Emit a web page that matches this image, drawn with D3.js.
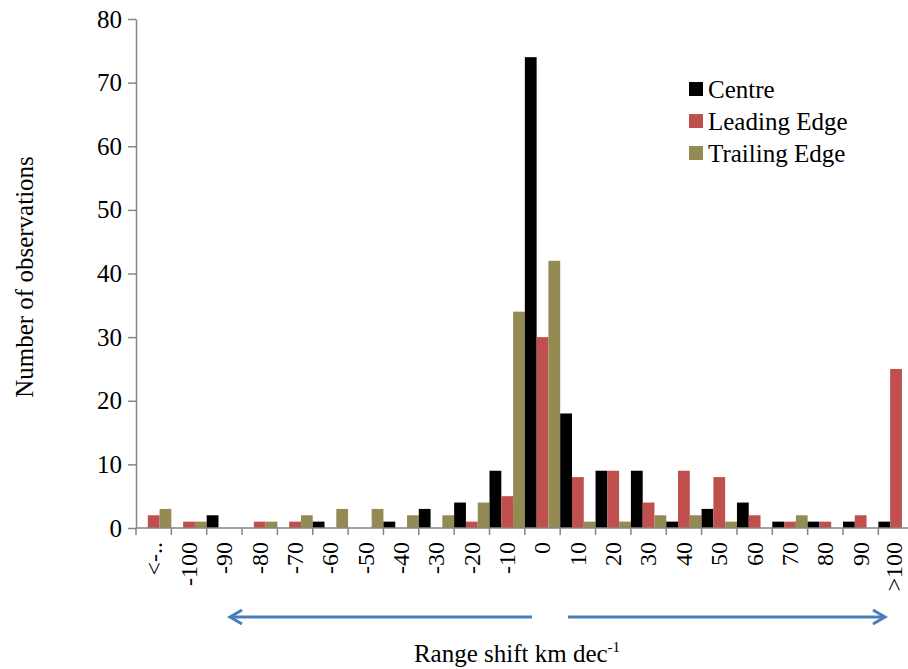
<!DOCTYPE html>
<html>
<head>
<meta charset="utf-8">
<script src="https://cdn.jsdelivr.net/npm/d3@7"></script>
<style>
    body { margin: 0; background: #fff; }
    svg { display: block; font-family: 'Liberation Serif', 'Times New Roman', serif; }
</style>
</head>
<body>
<script>
// range shift bins (km per decade)
const categories = ['<-..', '-100', '-90', '-80', '-70', '-60', '-50', '-40', '-30', '-20', '-10',
    '0', '10', '20', '30', '40', '50', '60', '70', '80', '90', '>100'];

// number of observations per bin
const centre = [0, 0, 2, 0, 0, 1, 0, 1, 3, 4, 9, 74, 18, 9, 9, 1, 3, 4, 1, 1, 1, 1];
const leadingEdge = [2, 1, 0, 1, 1, 0, 0, 0, 0, 1, 5, 30, 8, 9, 4, 9, 8, 2, 1, 1, 2, 25];
const trailingEdge = [3, 1, 0, 1, 2, 3, 3, 2, 2, 4, 34, 42, 1, 1, 2, 2, 1, 0, 2, 0, 0, 0];

const seriesNames = ['Centre', 'Leading Edge', 'Trailing Edge'];
const yTicks = [0, 10, 20, 30, 40, 50, 60, 70, 80];

drawBarChart();

/*
 * Draws the grouped bar chart of range shifts.
 */
function drawBarChart()
{
    const width = 908;
    const height = 669;

    const plotLeft = 136;
    const plotRight = 913.7;
    const plotTop = 19;
    const plotBottom = 528;

    const colors = ['#000000', '#c0504d', '#948a54'];
    const axisColor = '#868686';
    const fontSize = 25;

    const series = [centre, leadingEdge, trailingEdge];

    const svg = d3.select('body')
        .append('svg')
        .attr('width', width)
        .attr('height', height);

    // scalers
    const x = d3.scaleBand().domain(categories).range([plotLeft, plotRight]).padding(0);
    const xSub = d3.scaleBand().domain(seriesNames).range([0, x.bandwidth()]).padding(0);
    const y = d3.scaleLinear().domain([0, 80]).range([plotBottom, plotTop]);

    // bars
    const groups = svg.selectAll('g.bar-group')
        .data(categories)
        .enter()
        .append('g')
        .attr('class', 'bar-group')
        .attr('transform', d => `translate(${x(d)},0)`);

    groups.selectAll('rect')
        .data((d, i) => seriesNames.map((name, s) => ({ name: name, value: series[s][i], color: colors[s] })))
        .enter()
        .append('rect')
        .attr('x', d => xSub(d.name))
        .attr('width', xSub.bandwidth())
        .attr('y', d => y(d.value))
        .attr('height', d => y(0) - y(d.value))
        .attr('fill', d => d.color);

    // y-axis
    const yAxis = svg.append('g')
        .attr('transform', `translate(${plotLeft},0)`)
        .call(d3.axisLeft(y).tickValues(yTicks).tickSize(8).tickSizeOuter(0).tickPadding(6));

    yAxis.select('.domain').attr('stroke', axisColor).attr('stroke-width', 1.5);
    yAxis.selectAll('.tick line').attr('stroke', axisColor).attr('stroke-width', 1.5);
    yAxis.selectAll('.tick text')
        .attr('font-size', fontSize)
        .attr('font-family', 'Liberation Serif')
        .attr('fill', '#000');

    // x-axis line and ticks at the bin boundaries
    svg.append('line')
        .attr('x1', plotLeft)
        .attr('x2', plotRight)
        .attr('y1', plotBottom)
        .attr('y2', plotBottom)
        .attr('stroke', axisColor)
        .attr('stroke-width', 1.5);

    svg.selectAll('line.x-tick')
        .data(categories)
        .enter()
        .append('line')
        .attr('class', 'x-tick')
        .attr('x1', d => x(d) + x.bandwidth())
        .attr('x2', d => x(d) + x.bandwidth())
        .attr('y1', plotBottom)
        .attr('y2', plotBottom + 7)
        .attr('stroke', axisColor)
        .attr('stroke-width', 1.5);

    svg.append('line')
        .attr('x1', plotLeft)
        .attr('x2', plotLeft)
        .attr('y1', plotBottom)
        .attr('y2', plotBottom + 7)
        .attr('stroke', axisColor)
        .attr('stroke-width', 1.5);

    // rotated category labels (last one nudged so it stays inside the picture)
    svg.selectAll('text.x-label')
        .data(categories)
        .enter()
        .append('text')
        .attr('class', 'x-label')
        .attr('transform', (d, i) =>
        {
            const cx = x(d) + x.bandwidth() / 2 - (i === categories.length - 1 ? 2 : 0);
            return `translate(${cx},${plotBottom + 14}) rotate(-90)`;
        })
        .attr('text-anchor', 'end')
        .attr('dy', '0.33em')
        .attr('font-size', 24)
        .text(d => d);

    // axis titles
    svg.append('text')
        .attr('transform', 'translate(33,277) rotate(-90)')
        .attr('text-anchor', 'middle')
        .attr('font-size', fontSize)
        .text('Number of observations');

    const xTitle = svg.append('text')
        .attr('x', 517)
        .attr('y', 662)
        .attr('text-anchor', 'middle')
        .attr('font-size', fontSize)
        .text('Range shift km dec');
    xTitle.append('tspan')
        .attr('dy', -10)
        .attr('font-size', 15)
        .text('-1');

    // direction arrows under the axis
    const arrowColor = '#4a7ebb';
    const arrowY = 617;
    const arrows = [
        { from: 532, to: 230 },
        { from: 568, to: 885 }
    ];
    arrows.forEach(a =>
    {
        const dir = a.to > a.from ? 1 : -1;
        svg.append('line')
            .attr('x1', a.from)
            .attr('x2', a.to - dir * 1.5)
            .attr('y1', arrowY)
            .attr('y2', arrowY)
            .attr('stroke', arrowColor)
            .attr('stroke-width', 3);
        svg.append('path')
            .attr('d', `M${a.to - dir * 12},${arrowY - 7} L${a.to},${arrowY} L${a.to - dir * 12},${arrowY + 7}`)
            .attr('fill', 'none')
            .attr('stroke', arrowColor)
            .attr('stroke-width', 3)
            .attr('stroke-linejoin', 'miter');
    });

    // legend
    const legend = svg.append('g')
        .attr('transform', 'translate(689,89)');

    const legendRows = legend.selectAll('g')
        .data(seriesNames)
        .enter()
        .append('g')
        .attr('transform', (d, i) => `translate(0,${i * 32})`);

    legendRows.append('rect')
        .attr('x', 0)
        .attr('y', -7)
        .attr('width', 14)
        .attr('height', 14)
        .attr('fill', (d, i) => colors[i]);

    legendRows.append('text')
        .attr('x', 19)
        .attr('dy', '0.35em')
        .attr('font-size', fontSize)
        .text(d => d);
}
</script>
</body>
</html>
